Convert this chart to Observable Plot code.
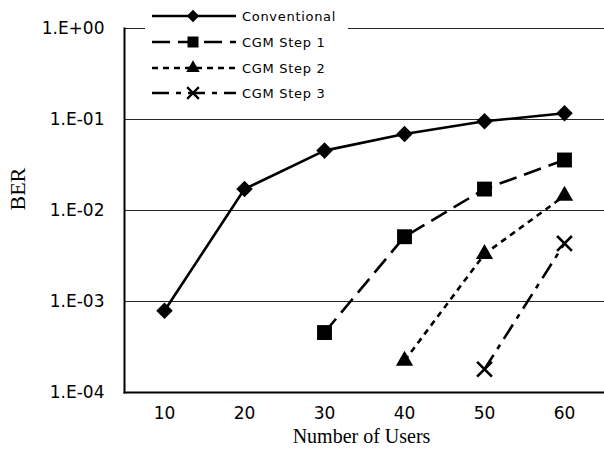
<!DOCTYPE html>
<html>
<head>
<meta charset="utf-8">
<script src="https://cdn.jsdelivr.net/npm/d3@7"></script>
<script src="https://cdn.jsdelivr.net/npm/@observablehq/plot@0.6"></script>
<style>
  html, body { margin: 0; padding: 0; background: white; }
  #chart { width: 604px; height: 449px; }
</style>
</head>
<body>
<div id="chart"></div>
<script>
// ---- data ----
const users = [10, 20, 30, 40, 50, 60];
const seriesNames = ["Conventional", "CGM Step 1", "CGM Step 2", "CGM Step 3"];
const conventional = [7.9e-4, 0.0172, 0.0455, 0.0694, 0.0955, 0.117];
const cgmStep1 = [null, null, 4.56e-4, 5.15e-3, 0.0172, 0.0359];
const cgmStep2 = [null, null, null, 2.23e-4, 3.32e-3, 0.01455];
const cgmStep3 = [null, null, null, null, 1.8e-4, 4.35e-3];
const yTicks = [1e-4, 1e-3, 1e-2, 1e-1, 1];
const xLabel = "Number of Users";
const yLabel = "BER";

// ---- styles ----
const styles = [
  {dash: null, symbol: "square", rotate: 45, r: 6.6, fill: "black", stroke: "none", lr: 5},
  {dash: "18,8", symbol: "square", rotate: 0, r: 8.4, fill: "black", stroke: "none", lr: 6.2},
  {dash: "6,5", symbol: "triangle", rotate: 0, r: 6.4, fill: "black", stroke: "none", lr: 5},
  {dash: "17,7,5,7", symbol: "times", rotate: 0, r: 6.8, fill: "none", stroke: "black", lr: 5.4}
];

const allSeries = [conventional, cgmStep1, cgmStep2, cgmStep3];
const rows = [];
allSeries.forEach((vals, i) => {
  vals.forEach((v, j) => {
    if (v != null) rows.push({series: seriesNames[i], users: users[j], ber: v});
  });
});

const fmt = d => {
  const e = Math.round(Math.log10(d));
  return "1.E" + (e < 0 ? "-" : "+") + String(Math.abs(e)).padStart(2, "0");
};

const lineMarks = [];
const dotMarks = [];
seriesNames.forEach((name, i) => {
  const s = styles[i];
  const data = rows.filter(d => d.series === name);
  lineMarks.push(Plot.line(data, {
    x: "users", y: "ber", stroke: "black", strokeWidth: 2.6,
    strokeDasharray: s.dash || undefined, strokeLinecap: "butt", strokeLinejoin: "round"
  }));
  dotMarks.push(Plot.dot(data, {
    x: "users", y: "ber", symbol: s.symbol, r: s.r, rotate: s.rotate,
    fill: s.fill, stroke: s.stroke, strokeWidth: s.stroke === "none" ? undefined : 2.6
  }));
});

const chart = Plot.plot({
  width: 604,
  height: 449,
  marginLeft: 124,
  marginRight: 0,
  marginTop: 28,
  marginBottom: 57,
  style: {fontFamily: "DejaVu Sans", fontSize: "17px", color: "black", background: "white", overflow: "visible"},
  x: {type: "point", domain: users, padding: 0.5},
  y: {type: "log", domain: [1e-4, 1]},
  marks: [
    Plot.ruleY(yTicks.slice(1), {stroke: "black", strokeWidth: 1.2, strokeOpacity: 0.85}),
    Plot.frame({anchor: "left", stroke: "black", strokeWidth: 2}),
    Plot.frame({anchor: "bottom", stroke: "black", strokeWidth: 2}),
    Plot.axisY({ticks: yTicks, tickFormat: fmt, tickSize: 0, tickPadding: 20, label: null, fontSize: 17}),
    Plot.axisX({ticks: users, tickSize: 0, tickPadding: 14, label: null, fontSize: 17}),
    ...lineMarks,
    ...dotMarks,
    Plot.text([xLabel], {frameAnchor: "bottom", dx: -3, dy: 50, fontFamily: "Liberation Serif", fontSize: 20, text: d => d}),
    Plot.text([yLabel], {frameAnchor: "left", dx: -107, rotate: -90, fontFamily: "Liberation Serif", fontSize: 22, text: d => d})
  ]
});

// ---- legend ----
const svg = d3.select(chart);
const lg = svg.append("g").attr("class", "legend");
lg.append("rect").attr("x", 145).attr("y", 3).attr("width", 203).attr("height", 101).attr("fill", "white");
const rowY = [16, 42, 68, 93];
seriesNames.forEach((name, i) => {
  const s = styles[i];
  const g = lg.append("g").attr("transform", `translate(0,${rowY[i]})`);
  g.append("line").attr("x1", 152).attr("x2", 236).attr("y1", 0).attr("y2", 0)
    .attr("stroke", "black").attr("stroke-width", 2.4)
    .attr("stroke-dasharray", s.dash || null);
  const symType = s.symbol === "square" ? d3.symbolSquare : s.symbol === "triangle" ? d3.symbolTriangle : d3.symbolTimes;
  g.append("path")
    .attr("d", d3.symbol(symType, Math.PI * s.lr * s.lr)())
    .attr("transform", `translate(193,0) rotate(${s.rotate})`)
    .attr("fill", s.fill).attr("stroke", s.stroke)
    .attr("stroke-width", s.stroke === "none" ? null : 2.2);
  g.append("text").attr("x", 242).attr("y", 0).attr("dy", "0.35em")
    .attr("text-anchor", "start")
    .attr("font-family", "DejaVu Sans").attr("font-size", 13).attr("letter-spacing", 0.7)
    .attr("fill", "black").text(name);
});

document.getElementById("chart").appendChild(chart);
</script>
</body>
</html>
